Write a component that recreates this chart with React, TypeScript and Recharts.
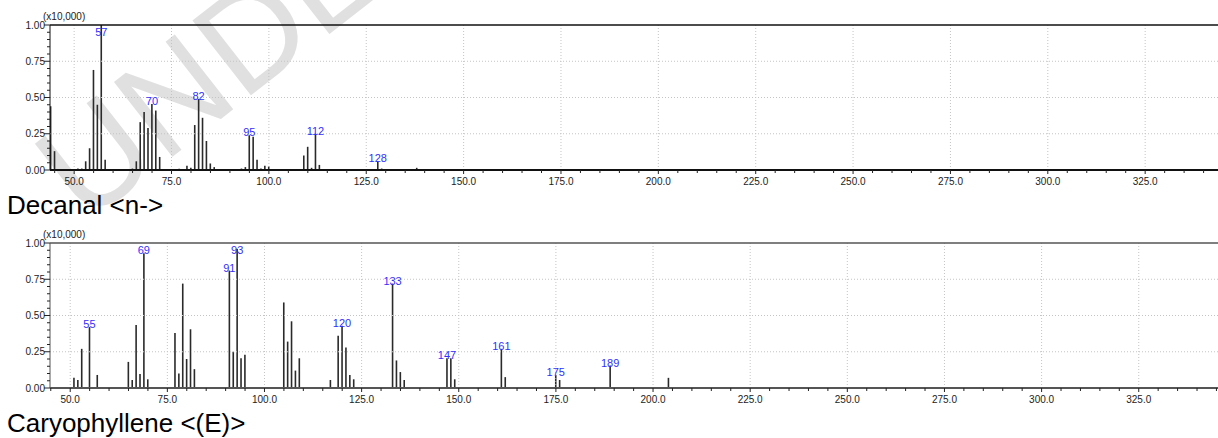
import React from "react";
import { BarChart, Bar, XAxis, YAxis, ReferenceLine, LabelList } from "recharts";

// Decanal <n-> spectrum (m/z, relative intensity x10,000)
const decanalMz = [44, 45, 51, 52, 53, 54, 55, 56, 57, 58, 65, 66, 67, 68, 69, 70, 71, 72, 77, 79, 80, 81, 82, 83, 84, 85, 86, 93, 94, 95, 96, 97, 98, 99, 100, 109, 110, 111, 112, 113, 123, 128, 129, 138];
const decanalInt = [0.44, 0.13, 0.01, 0.01, 0.06, 0.15, 0.69, 0.45, 1.0, 0.07, 0.01, 0.06, 0.33, 0.4, 0.29, 0.455, 0.41, 0.09, 0.008, 0.03, 0.015, 0.31, 0.49, 0.36, 0.2, 0.045, 0.02, 0.01, 0.02, 0.24, 0.23, 0.07, 0.01, 0.03, 0.025, 0.1, 0.16, 0.015, 0.25, 0.035, 0.005, 0.06, 0.01, 0.015];
const decanalPeaks = [57, 70, 82, 95, 112, 128];

// Caryophyllene <(E)> spectrum
const caryoMz = [51, 52, 53, 55, 57, 65, 66, 67, 68, 69, 70, 77, 78, 79, 80, 81, 82, 91, 92, 93, 94, 95, 105, 106, 107, 108, 109, 117, 119, 120, 121, 122, 123, 133, 134, 135, 136, 147, 148, 149, 161, 162, 175, 176, 189, 204];
const caryoInt = [0.07, 0.055, 0.27, 0.42, 0.09, 0.18, 0.055, 0.435, 0.096, 0.93, 0.06, 0.38, 0.1, 0.72, 0.2, 0.405, 0.13, 0.81, 0.25, 0.96, 0.205, 0.23, 0.59, 0.32, 0.46, 0.12, 0.205, 0.055, 0.36, 0.43, 0.28, 0.09, 0.06, 0.72, 0.19, 0.11, 0.055, 0.205, 0.205, 0.06, 0.27, 0.075, 0.09, 0.055, 0.155, 0.07];
const caryoPeaks = [55, 69, 91, 93, 120, 133, 147, 161, 175, 189];

const majorX = [50, 75, 100, 125, 150, 175, 200, 225, 250, 275, 300, 325];
const majorY = [0, 0.25, 0.5, 0.75, 1];

const minorX: number[] = [];
for (let v = 45; v <= 345; v += 5) minorX.push(v);
const minorY: number[] = [];
for (let i = 0; i <= 20; i++) minorY.push(i / 20);

const FONT = "Arial, 'Liberation Sans', sans-serif";
const PLOT_TOP = 25;

function XTick(props: any) {
  const { x, y, payload } = props;
  const major = majorX.includes(payload.value);
  return (
    <g>
      <line x1={x} x2={x} y1={y} y2={y + (major ? 4 : 3)} stroke="#222" strokeWidth={1} />
      {major && (
        <text x={x} y={y + 15} textAnchor="middle" fontSize={10} fill="#222" fontFamily={FONT}>
          {payload.value.toFixed(1)}
        </text>
      )}
    </g>
  );
}

function YTick(props: any) {
  const { x, y, payload } = props;
  const v = Math.round(payload.value * 100) / 100;
  const major = majorY.includes(v);
  return (
    <g>
      <line x1={x - (major ? 6 : 3)} x2={x} y1={y} y2={y} stroke="#222" strokeWidth={1} />
      {major && (
        <text x={x - 5} y={y + 3.5} textAnchor="end" fontSize={10} fill="#222" fontFamily={FONT}>
          {v.toFixed(2)}
        </text>
      )}
    </g>
  );
}

function PeakLabel(props: any) {
  const { x, y, width, value } = props;
  if (!value) return null;
  const ty = Math.max(y + 1, PLOT_TOP + 10.5);
  return (
    <text x={x + width / 2} y={ty} textAnchor="middle" fontSize={11} fill="#2f2fff" fontFamily={FONT}>
      {value}
    </text>
  );
}

function Spectrum({ mz, intensity, peaks, domain, frame }: { mz: number[]; intensity: number[]; peaks: number[]; domain: [number, number]; frame: string }) {
  const data = mz.map((m, i) => ({ mz: m, v: intensity[i], label: peaks.includes(m) ? String(m) : "" }));
  return (
    <div style={{ position: "relative", width: 1218, height: 190 }}>
      <BarChart width={1218} height={190} data={data} margin={{ top: PLOT_TOP, right: 0, bottom: 0, left: 0 }}>
        <XAxis
          type="number"
          dataKey="mz"
          domain={domain}
          allowDataOverflow
          ticks={minorX}
          interval={0}
          tick={<XTick />}
          tickLine={false}
          tickSize={0}
          tickMargin={0}
          height={20}
          axisLine={{ stroke: frame, strokeWidth: 2 }}
        />
        <YAxis
          type="number"
          domain={[0, 1]}
          allowDataOverflow
          ticks={minorY}
          interval={0}
          tick={<YTick />}
          tickLine={false}
          tickSize={0}
          tickMargin={0}
          width={50}
          axisLine={{ stroke: frame, strokeWidth: 1 }}
        />
        {majorX.map((g) => (
          <ReferenceLine key={"gx" + g} x={g} stroke="#c4c4c4" strokeDasharray="1 2" />
        ))}
        {[0.25, 0.5, 0.75].map((g) => (
          <ReferenceLine key={"gy" + g} y={g} stroke="#c4c4c4" strokeDasharray="1 2" />
        ))}
        <ReferenceLine y={1} stroke={frame} strokeWidth={1.5} />
        <Bar dataKey="v" fill="#2a2a2a" barSize={1.6} isAnimationActive={false}>
          <LabelList dataKey="label" content={<PeakLabel />} />
        </Bar>
      </BarChart>
      <div style={{ position: "absolute", left: 43, top: 12, fontSize: 10, lineHeight: "10px", color: "#222", fontFamily: FONT }}>
        (x10,000)
      </div>
    </div>
  );
}

export default function App() {
  return (
    <div style={{ position: "absolute", left: 0, top: 0, width: 1218, height: 438, overflow: "hidden", background: "#fff", fontFamily: FONT }}>
      <svg width={1218} height={438} style={{ position: "absolute", left: 0, top: 0 }}>
        <text x={85} y={225} transform="rotate(-38 85 225)" fontSize={138} fill="#e0e0e0" fontFamily={FONT}>
          UNDER
        </text>
      </svg>
      <div style={{ position: "absolute", left: 0, top: 0 }}>
        <Spectrum mz={decanalMz} intensity={decanalInt} peaks={decanalPeaks} domain={[43.8, 343.7]} frame="#111" />
      </div>
      <div style={{ position: "absolute", left: 7, top: 192, fontSize: 26, lineHeight: "26px", color: "#000" }}>Decanal &lt;n-&gt;</div>
      <div style={{ position: "absolute", left: 0, top: 218 }}>
        <Spectrum mz={caryoMz} intensity={caryoInt} peaks={caryoPeaks} domain={[44.8, 345.4]} frame="#555" />
      </div>
      <div style={{ position: "absolute", left: 7, top: 410, fontSize: 26, lineHeight: "26px", color: "#000" }}>Caryophyllene &lt;(E)&gt;</div>
    </div>
  );
}
